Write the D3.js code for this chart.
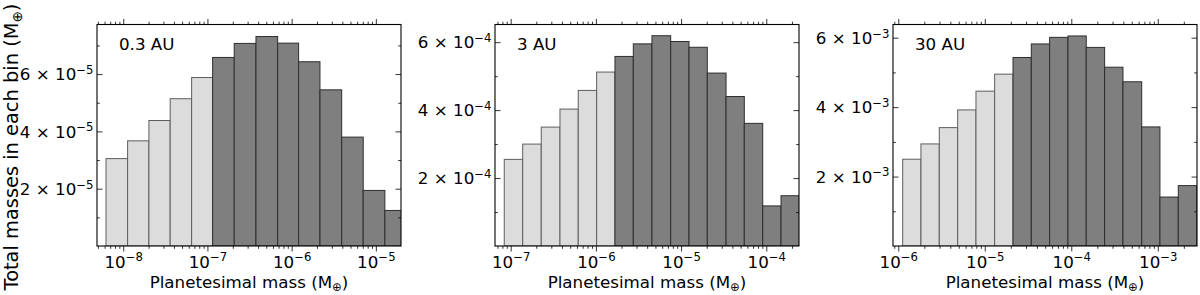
<!DOCTYPE html>
<html><head><meta charset="utf-8">
<script src="https://cdn.jsdelivr.net/npm/d3@7"></script>
<style>
body{margin:0;background:#fff}
svg{display:block}
text{font-family:"DejaVu Sans",sans-serif;fill:#000}
</style>
</head><body>
<svg id="c" width="1200" height="295"></svg>
<script>
// ---------------- data ----------------
const panelLabels = ["0.3 AU", "3 AU", "30 AU"];

// bin edges (planetesimal mass, M_earth)
const binEdges03 = [6.24e-9, 1.127e-8, 2.018e-8, 3.61e-8, 6.49e-8, 1.153e-7, 2.08e-7, 3.77e-7, 6.82e-7, 1.21e-6, 2.17e-6, 3.93e-6, 7.08e-6, 1.28e-5, 2.32e-5];
const binEdges3  = [8.41e-8, 1.384e-7, 2.286e-7, 3.79e-7, 6.21e-7, 1.021e-6, 1.675e-6, 2.75e-6, 4.55e-6, 7.55e-6, 1.239e-5, 2.03e-5, 3.37e-5, 5.52e-5, 9.08e-5, 1.489e-4, 2.45e-4];
const binEdges30 = [1.125e-6, 1.828e-6, 2.98e-6, 4.86e-6, 7.91e-6, 1.30e-5, 2.12e-5, 3.45e-5, 5.62e-5, 9.16e-5, 1.489e-4, 2.43e-4, 3.96e-4, 6.52e-4, 1.059e-3, 1.726e-3, 2.82e-3];

// total mass in each bin (M_earth)
const mass03 = [3.05e-5, 3.67e-5, 4.38e-5, 5.14e-5, 5.88e-5, 6.58e-5, 7.07e-5, 7.31e-5, 7.08e-5, 6.43e-5, 5.45e-5, 3.80e-5, 1.94e-5, 1.24e-5];
const mass3  = [2.55e-4, 3.00e-4, 3.50e-4, 4.03e-4, 4.58e-4, 5.12e-4, 5.58e-4, 5.95e-4, 6.19e-4, 6.02e-4, 5.85e-4, 5.09e-4, 4.40e-4, 3.61e-4, 1.18e-4, 1.48e-4];
const mass30 = [2.50e-3, 2.94e-3, 3.41e-3, 3.92e-3, 4.46e-3, 4.95e-3, 5.43e-3, 5.82e-3, 6.01e-3, 6.05e-3, 5.72e-3, 5.15e-3, 4.73e-3, 3.43e-3, 1.41e-3, 1.74e-3];

// number of (light-shaded) low-mass bins in each panel
const lightBins = [5, 6, 6];

// axis domains
const xDomain03 = [4.88e-9, 1.99e-5];
const xDomain3  = [6.55e-8, 2.42e-4];
const xDomain30 = [8.69e-7, 2.84e-3];
const yMax = [7.73e-5, 6.52e-4, 6.38e-3];

// ticks
const xMajor03 = [1e-8, 1e-7, 1e-6, 1e-5];
const xMajor3  = [1e-7, 1e-6, 1e-5, 1e-4];
const xMajor30 = [1e-6, 1e-5, 1e-4, 1e-3];
const yMajor03 = [2e-5, 4e-5, 6e-5];
const yMajor3  = [2e-4, 4e-4, 6e-4];
const yMajor30 = [2e-3, 4e-3, 6e-3];
const yMinor03 = [1e-5, 3e-5, 5e-5, 7e-5];
const yMinor3  = [1e-4, 3e-4, 5e-4];
const yMinor30 = [1e-3, 3e-3, 5e-3];
const yExponent = [-5, -4, -3];

const xTitle = "Planetesimal mass (M";
const yTitle = "Total masses in each bin (M";
const earthSym = "\u2295";

// ---------------- layout ----------------
const boxLeft = [97, 495, 893];
const boxW = 304;
const plotTop = 24.5, plotBottom = 246;
const FS = 16.7, SUP = 11.7;

const panels = [
  {label: panelLabels[0], edges: binEdges03, values: mass03, light: lightBins[0], xDomain: xDomain03, yMax: yMax[0], xMajor: xMajor03, yMajor: yMajor03, yMinor: yMinor03, yExp: yExponent[0]},
  {label: panelLabels[1], edges: binEdges3,  values: mass3,  light: lightBins[1], xDomain: xDomain3,  yMax: yMax[1], xMajor: xMajor3,  yMajor: yMajor3,  yMinor: yMinor3,  yExp: yExponent[1]},
  {label: panelLabels[2], edges: binEdges30, values: mass30, light: lightBins[2], xDomain: xDomain30, yMax: yMax[2], xMajor: xMajor30, yMajor: yMajor30, yMinor: yMinor30, yExp: yExponent[2]}
];

const svg = d3.select("#c");
const defs = svg.append("defs");

function styleAxis(a) {
  a.select(".domain").remove();
  a.attr("font-size", null).attr("font-family", null);
  a.selectAll(".tick line").attr("stroke", "#000").attr("stroke-width", 0.8);
  return a;
}

panels.forEach((p, idx) => {
  const L = boxLeft[idx], R = L + boxW;
  const x = d3.scaleLog().domain(p.xDomain).range([L, R]);
  const y = d3.scaleLinear().domain([0, p.yMax]).range([plotBottom, plotTop]);
  const g = svg.append("g");

  const clipId = "clip" + idx;
  defs.append("clipPath").attr("id", clipId).append("rect")
    .attr("x", L).attr("y", plotTop).attr("width", boxW).attr("height", plotBottom - plotTop);

  // bars
  g.append("g").attr("clip-path", `url(#${clipId})`)
    .selectAll("rect").data(p.values).join("rect")
    .attr("x", (d, i) => x(p.edges[i]))
    .attr("width", (d, i) => x(p.edges[i + 1]) - x(p.edges[i]))
    .attr("y", d => y(d))
    .attr("height", d => y(0) - y(d))
    .attr("fill", (d, i) => i < p.light ? "#dcdcdc" : "#7f7f7f")
    .attr("stroke", (d, i) => i < p.light ? "#5e5e5e" : "#2e2e2e")
    .attr("stroke-width", 1);

  // minor x ticks from the log scale
  const xMinor = x.ticks().filter(v => {
    const m = v / Math.pow(10, Math.floor(Math.log10(v) + 1e-9));
    return Math.abs(m - 1) > 1e-6;
  });

  // bottom axis
  styleAxis(g.append("g").attr("transform", `translate(0,${plotBottom})`)
    .call(d3.axisBottom(x).tickValues(xMinor).tickSize(2.8).tickFormat(() => "")));
  const bx = styleAxis(g.append("g").attr("transform", `translate(0,${plotBottom})`)
    .call(d3.axisBottom(x).tickValues(p.xMajor).tickSize(5.5).tickFormat(() => "")));
  bx.selectAll(".tick text").each(function(d) {
    const t = d3.select(this);
    const e = Math.round(Math.log10(d));
    t.attr("y", 21.5).attr("dy", null).attr("font-size", FS).attr("text-anchor", "middle");
    t.append("tspan").text("10");
    t.append("tspan").attr("dy", -6.5).attr("font-size", SUP).text("\u2212" + Math.abs(e));
  });

  // top axis
  styleAxis(g.append("g").attr("transform", `translate(0,${plotTop})`)
    .call(d3.axisTop(x).tickValues(xMinor).tickSize(2.8).tickFormat(() => "")));
  styleAxis(g.append("g").attr("transform", `translate(0,${plotTop})`)
    .call(d3.axisTop(x).tickValues(p.xMajor).tickSize(5.5).tickFormat(() => "")));

  // left axis
  styleAxis(g.append("g").attr("transform", `translate(${L},0)`)
    .call(d3.axisLeft(y).tickValues(p.yMinor).tickSize(-2.8).tickFormat(() => "")));
  const ly = styleAxis(g.append("g").attr("transform", `translate(${L},0)`)
    .call(d3.axisLeft(y).tickValues(p.yMajor).tickSize(-5.5).tickFormat(() => "")));
  ly.selectAll(".tick text").each(function(d) {
    const t = d3.select(this);
    const mant = Math.round(d / Math.pow(10, p.yExp));
    t.attr("x", -3.5).attr("y", 5.8).attr("dy", null).attr("font-size", FS).attr("text-anchor", "end");
    t.append("tspan").text(mant + " \u00d7 10");
    t.append("tspan").attr("dy", -6.5).attr("font-size", SUP).text("\u2212" + Math.abs(p.yExp));
  });

  // right axis
  styleAxis(g.append("g").attr("transform", `translate(${R},0)`)
    .call(d3.axisRight(y).tickValues(p.yMinor).tickSize(-2.8).tickFormat(() => "")));
  styleAxis(g.append("g").attr("transform", `translate(${R},0)`)
    .call(d3.axisRight(y).tickValues(p.yMajor).tickSize(-5.5).tickFormat(() => "")));

  // frame
  g.append("rect").attr("x", L).attr("y", plotTop).attr("width", boxW).attr("height", plotBottom - plotTop)
    .attr("fill", "none").attr("stroke", "#000").attr("stroke-width", 1.1);

  // panel label
  g.append("text").attr("x", L + 22).attr("y", 50).attr("font-size", FS).text(p.label);

  // x title
  const xt = g.append("text").attr("x", (L + R) / 2).attr("y", 288)
    .attr("text-anchor", "middle").attr("font-size", FS);
  xt.append("tspan").text(xTitle);
  xt.append("tspan").attr("dy", 3).attr("font-size", SUP).text(earthSym);
  xt.append("tspan").attr("dy", -3).text(")");
});

// y title
const yt = svg.append("text")
  .attr("transform", "translate(18,147) rotate(-90)")
  .attr("text-anchor", "middle").attr("font-size", 19.4);
yt.append("tspan").text(yTitle);
yt.append("tspan").attr("dy", 3.5).attr("font-size", 13.6).text(earthSym);
yt.append("tspan").attr("dy", -3.5).text(")");
</script>
</body></html>
